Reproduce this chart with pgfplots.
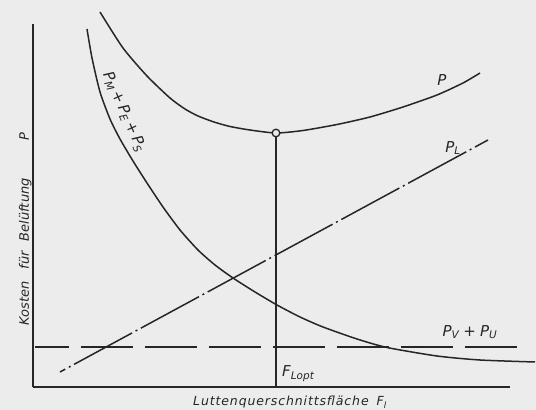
\documentclass[border=0pt]{standalone}
\usepackage{fontspec}
\setmainfont{DejaVu Sans}
\newfontfamily\techwide[LetterSpace=7]{DejaVu Sans}
\usepackage{pgfplots}
\pgfplotsset{compat=1.18}
\definecolor{paper}{HTML}{ECECEC}
\definecolor{ink}{HTML}{262626}
\newcommand{\sub}[1]{\textsubscript{#1}}

\begin{document}
\begin{tikzpicture}[
  ln/.style={draw=ink, line width=1.5pt, line cap=butt},
  lbl/.style={text=ink, font=\fontsize{15}{17}\selectfont\itshape},
]
\begin{axis}[
  scale only axis, width=477pt, height=363pt,
  xmin=33, xmax=510, ymin=23, ymax=386,
  axis lines=left, axis line style={-, line width=1.5pt, ink},
  xtick=\empty, ytick=\empty,
  axis on top, clip=false,
]
% paper
\fill[paper] (axis cs:0,0) rectangle (axis cs:536,410);

% P_M + P_E + P_S
\addplot[ln, smooth, tension=0.4] coordinates {
  (87,381) (92,352) (100,318) (110,291) (120,271) (133,249) (147,227)
  (163,203) (180,180) (198,160) (215,145) (233,132) (255,118) (277,105)
  (300,93) (323,83) (357,71) (387,62.5) (437,54) (480,50) (535,48)};

% P (total)
\addplot[ln, smooth, tension=0.4] coordinates {
  (100,398) (123,362) (147,334) (170,312) (185,301) (198,294)
  (214,288) (230,283.5) (250,280) (276,277) (303,279.5) (337,285.5) (370,293)
  (403,303) (437,315) (463,327) (480,337)};

% P_L
\addplot[ln, dash pattern=on 66pt off 4pt on 2pt off 4pt, dash phase=60pt]
  coordinates {(60,38) (488,270)};

% P_V + P_U
\addplot[ln, dash pattern=on 52pt off 12pt, dash phase=18pt]
  coordinates {(35,63) (517,63)};

% optimum
\addplot[ln] coordinates {(276,23) (276,273)};
\addplot[only marks, mark=*, mark size=3.8pt,
  mark options={fill=paper, draw=ink, line width=1.3pt}] coordinates {(276,277)};

% labels
\node[lbl] at (axis cs:442,330) {P};
\node[lbl] at (axis cs:453,262) {P\sub{L}};
\node[lbl] at (axis cs:470,78) {P\sub{V}\;+\;P\sub{U}};
\node[lbl, anchor=base west, inner sep=0pt] at (axis cs:282,33) {F\sub{Lopt}};
\node[lbl, rotate=-66] at (axis cs:124,298) {P\sub{M}\,+\,P\sub{E}\,+\,P\sub{S}};
\node[text=ink, anchor=base, inner sep=0pt, font=\fontsize{12.5}{14}\selectfont\techwide\itshape]
  at (axis cs:290,4) {Luttenquerschnittsfläche\hspace{8pt}F\sub{l}};
\node[text=ink, rotate=90, anchor=base, inner sep=0pt, font=\fontsize{13}{15}\selectfont\itshape]
  at (axis cs:29,181) {Kosten\hspace{12pt}für\hspace{10pt}Belüftung\hspace{38pt}P};
\end{axis}
\end{tikzpicture}
\end{document}
